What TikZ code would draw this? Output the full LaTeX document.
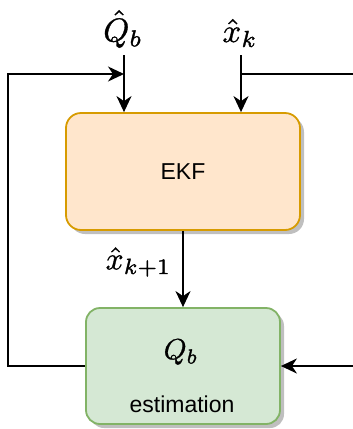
\documentclass[tikz,border=0pt]{standalone}
\usepackage{amsmath}
\usepackage{graphicx}
\usepackage{fontspec}
\setmainfont{Liberation Sans}
\usetikzlibrary{arrows.meta,shadows}
\definecolor{ekffill}{HTML}{FFE6CC}
\definecolor{ekfdraw}{HTML}{D79B00}
\definecolor{qfill}{HTML}{D5E8D4}
\definecolor{qdraw}{HTML}{82B366}
\newcommand{\heavy}[1]{\special{pdf:literal 2 Tr 0.1 w}#1\special{pdf:literal 0 Tr}}
\newcommand{\toplbl}[1]{\scalebox{3.3}{\heavy{$#1$}}}
\newcommand{\sidelbl}[1]{\scalebox{3.15}{\heavy{$#1$}}}
\newcommand{\boxlbl}[1]{\scalebox{2.9}{\heavy{$#1$}}}
\begin{document}
\begin{tikzpicture}[x=1pt,y=-1pt,line width=1.8pt,
  arr/.style={-{Stealth[length=16pt,width=15pt,inset=5pt]}},
  boxshadow/.style={drop shadow={shadow xshift=4pt,shadow yshift=-4pt,fill=black!25,opacity=1}},
  ekfbox/.style={draw=ekfdraw,fill=ekffill,rounded corners=15pt,minimum width=234pt,minimum height=117pt,boxshadow,font=\fontsize{23}{27}\selectfont},
  qbox/.style={draw=qdraw,fill=qfill,rounded corners=14pt,minimum width=194pt,minimum height=116pt,boxshadow},
  mathlbl/.style={inner sep=0pt}
]
\useasboundingbox (0,0) rectangle (353,429);
\node[ekfbox] (ekf) at (183,171.5) {EKF};
\node[qbox] (qb) at (183,366) {};
\node[mathlbl] (qbtxt) at (181,352) {\boxlbl{Q_b}};
\node[inner sep=0pt,font=\fontsize{23}{27}\selectfont] (est) at (182,404) {estimation};
\node[mathlbl] (qhat) at (123,29) {\toplbl{\hat{Q}_b}};
\node[mathlbl] (xhat) at (240,33) {\toplbl{\hat{x}_k}};
\node[mathlbl,anchor=east] (xnext) at (172,262) {\sidelbl{\hat{x}_{k+1}}};
\coordinate (qin) at (124,55);
\coordinate (xin) at (241,55);
\coordinate (qj) at (124,74);
\coordinate (xj) at (241,74);
\coordinate (lcorner) at (8,74);
\coordinate (redge) at (353,74);
\coordinate (redge2) at (353,366);
\draw[arr] (qin) -- (ekf.north -| qin);
\draw[arr] (xin) -- (ekf.north -| xin);
\draw[arr] (qb.west) -| (lcorner) -- (qj);
\draw (xj) -- (redge);
\draw[arr] (redge2) -- (qb.east);
\draw[arr] (ekf.south) -- (qb.north);
\end{tikzpicture}
\end{document}
